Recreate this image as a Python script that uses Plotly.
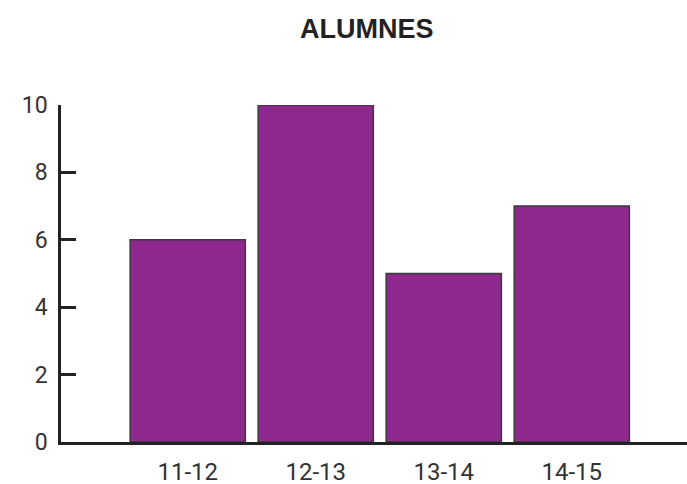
import plotly.graph_objects as go

categories = ["11-12", "12-13", "13-14", "14-15"]
values = [6, 10, 5, 7]
y_ticks = [0, 2, 4, 6, 8, 10]
title_text = "ALUMNES"

fig = go.Figure(go.Bar(
    x=categories, y=values,
    marker=dict(color="#8E278E", line=dict(color="#3a3a3a", width=1.5)),
))

fig.update_layout(
    width=687, height=484,
    margin=dict(l=61, r=0, t=105, b=42, autoexpand=False),
    plot_bgcolor="white", paper_bgcolor="white",
    bargap=0.10,
    showlegend=False,
    title=dict(text=f"<b>{title_text}</b>", x=0.534, xanchor="center", y=0.942, yanchor="middle",
               font=dict(family="Liberation Sans", size=27, color="#222222")),
    font=dict(family="Roboto", size=23, color="#333333"),
)
fig.update_xaxes(
    type="category", range=[-0.99, 3.9], automargin=False,
    showline=True, linecolor="#222222", linewidth=2.5,
    showgrid=False, ticks="", ticklabelstandoff=6,
    tickfont=dict(family="Roboto", size=24, color="#333333"),
)
fig.update_yaxes(
    range=[0, 10], tickvals=y_ticks, automargin=False,
    showline=True, linecolor="#222222", linewidth=2.5,
    showgrid=False, zeroline=False,
    ticks="inside", ticklen=15, tickwidth=2.5, tickcolor="#222222",
    ticklabelstandoff=6,
    tickfont=dict(family="Roboto", size=23, color="#333333"),
)

fig.write_html(
    "out.html",
    config={"displayModeBar": False},
    post_script="document.body.style.margin='0';document.body.style.overflow='hidden';",
)
